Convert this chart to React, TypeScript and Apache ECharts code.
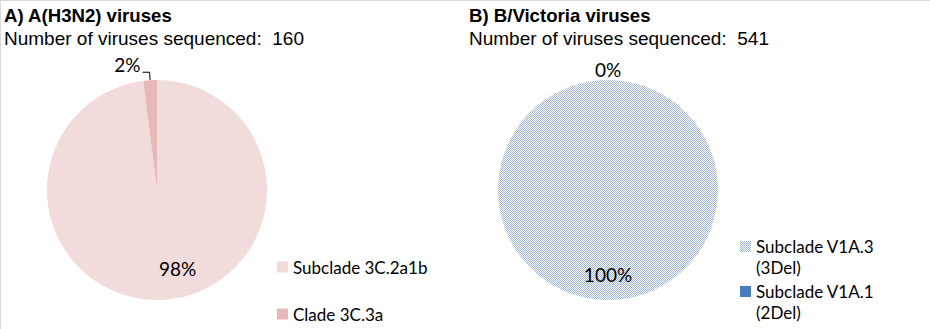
import React, { useEffect, useRef } from 'react';
import * as echarts from 'echarts';

const panelTitles = ['A) A(H3N2) viruses', 'B) B/Victoria viruses'];
const sequencedCounts = [160, 541];
const h3n2Categories = ['Subclade 3C.2a1b', 'Clade 3C.3a'];
const h3n2Values = [98, 2];
const victoriaCategories = ['Subclade V1A.3 (3Del)', 'Subclade V1A.1 (2Del)'];
const victoriaValues = [100, 0];

const TITLE_FONT = 'Liberation Sans';
const LABEL_FONT = 'Lato';

export default function App() {
  const ref = useRef<HTMLDivElement>(null);
  useEffect(() => {
    const chart = echarts.init(ref.current!, null, { renderer: 'svg' });

    const canvas = document.createElement('canvas');
    canvas.width = 2;
    canvas.height = 2;
    const ctx = canvas.getContext('2d')!;
    ctx.fillStyle = '#ffffff';
    ctx.fillRect(0, 0, 2, 2);
    ctx.fillStyle = '#9fb5d8';
    ctx.fillRect(0, 0, 1, 1);
    ctx.fillRect(1, 1, 1, 1);
    const checker: any = { image: canvas, repeat: 'repeat', imageWidth: 2, imageHeight: 2 };

    const h3n2Colors = ['#f2dcdb', '#e6b9b8'];
    const victoriaColors = [checker, '#4a7ebb'];

    const legendText = { fontFamily: LABEL_FONT, fontSize: 17, color: '#000' };
    const pieLabelText = { fontFamily: LABEL_FONT, fontSize: 19, color: '#000' };

    const h3n2Data = h3n2Categories.map((name, i) => ({
      name,
      value: h3n2Values[i],
      itemStyle: { color: h3n2Colors[i] },
      label: i === 1 ? { position: 'outside', distanceToLabelLine: 2 } : { position: 'inner' },
      labelLine: i === 1 ? { show: true, length: 8, length2: 7 } : { show: false },
    }));

    const victoriaData = victoriaCategories.map((name, i) => ({
      name,
      value: victoriaValues[i],
      itemStyle: { color: victoriaColors[i] },
      label: i === 1 ? { position: 'outside', distanceToLabelLine: 0 } : { position: 'inner' },
      labelLine: i === 1 ? { show: false, length: 8, length2: 0 } : { show: false },
    }));

    const titleBase = (i: number, left: number) => ({
      text: panelTitles[i],
      subtext: 'Number of viruses sequenced:  ' + sequencedCounts[i],
      left,
      top: 6,
      padding: 0,
      itemGap: 4,
      textStyle: { fontFamily: TITLE_FONT, fontSize: 18.6, fontWeight: 'bold', color: '#000' },
      subtextStyle: { fontFamily: TITLE_FONT, fontSize: 19, color: '#000' },
    });

    chart.setOption({
      animation: false,
      backgroundColor: '#ffffff',
      title: [titleBase(0, 4), titleBase(1, 469)],
      graphic: [
        { type: 'line', shape: { x1: 0, y1: 0.5, x2: 930, y2: 0.5 }, style: { stroke: '#d9d9d9', lineWidth: 1 } },
        { type: 'line', shape: { x1: 0.5, y1: 0, x2: 0.5, y2: 329 }, style: { stroke: '#d9d9d9', lineWidth: 1 } },
      ],
      legend: [
        {
          data: h3n2Categories,
          orient: 'vertical',
          left: 277,
          top: 256,
          padding: 0,
          itemWidth: 11,
          itemHeight: 11,
          itemGap: 25,
          itemTextGap: 4,
          icon: 'rect',
          selectedMode: false,
          textStyle: { ...legendText, lineHeight: 22 },
        },
        {
          data: victoriaCategories,
          orient: 'vertical',
          left: 740,
          top: 215,
          padding: 0,
          itemWidth: 11,
          itemHeight: 11,
          itemGap: -18,
          itemTextGap: 4,
          icon: 'rect',
          selectedMode: false,
          formatter: (name: string) => '\n' + name.replace(' (', '\n('),
          textStyle: { ...legendText, lineHeight: 21 },
        },
      ],
      series: [
        {
          type: 'pie',
          center: [157, 190],
          radius: 110,
          startAngle: 90,
          clockwise: true,
          avoidLabelOverlap: false,
          data: h3n2Data,
          label: { ...pieLabelText, formatter: (p: any) => p.value + '%' },
          labelLine: { lineStyle: { color: '#000', width: 1 } },
          itemStyle: { borderWidth: 0 },
          emphasis: { disabled: true },
          labelLayout: (p: any) =>
            p.dataIndex === 0 ? { dx: 17, dy: 21 } : { verticalAlign: 'bottom', dy: 2 },
        },
        {
          type: 'pie',
          center: [608, 190],
          radius: 110,
          startAngle: 90,
          clockwise: true,
          avoidLabelOverlap: false,
          data: victoriaData,
          label: { ...pieLabelText, formatter: (p: any) => p.value + '%' },
          itemStyle: { borderWidth: 0 },
          emphasis: { disabled: true },
          labelLayout: (p: any) => (p.dataIndex === 0 ? { dy: 26 } : { align: 'center', dy: -3 }),
        },
      ],
    });
    return () => chart.dispose();
  }, []);
  return <div ref={ref} style={{ position: 'fixed', left: 0, top: 0, width: 930, height: 329 }} />;
}
